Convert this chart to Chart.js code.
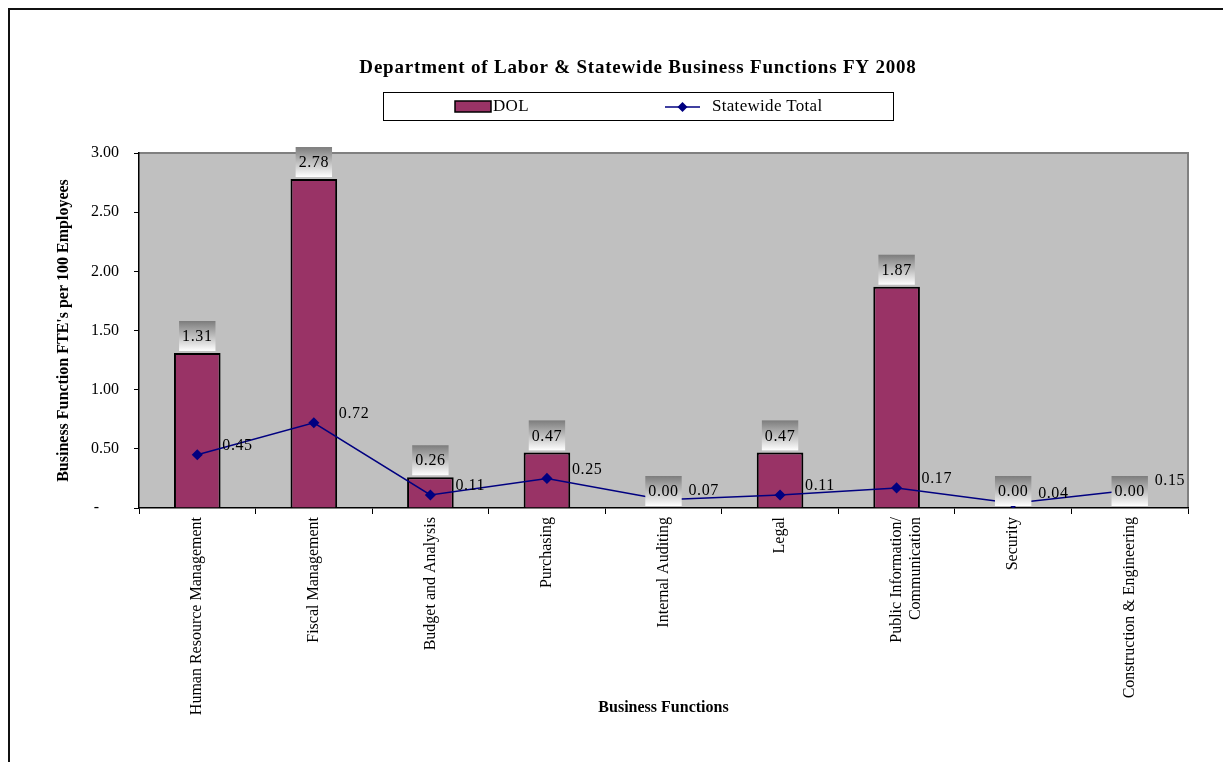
<!DOCTYPE html>
<html>
<head>
<meta charset="utf-8">
<script src="https://cdn.jsdelivr.net/npm/chart.js@4/dist/chart.umd.min.js"></script>
<style>
  html, body { margin: 0; padding: 0; background: #fff; overflow: hidden; }
  #frame {
    position: absolute; left: 8px; top: 8px; width: 1240px; height: 780px;
    border-left: 2px solid #111; border-top: 2px solid #111;
  }
  #wrap { position: absolute; left: 0; top: 0; width: 1223px; height: 762px; }
</style>
</head>
<body>
<div id="frame"></div>
<div id="wrap"><canvas id="chart" width="1223" height="762"></canvas></div>
<script>
// chart data
const categories = [
    "Human Resource Management",
    "Fiscal Management",
    "Budget and Analysis",
    "Purchasing",
    "Internal Auditing",
    "Legal",
    ["Public Information/", "Communication"],
    "Security",
    "Construction & Engineering"
];
const dolValues = [1.31, 2.78, 0.26, 0.47, 0.00, 0.47, 1.87, 0.00, 0.00];
const statewideValues = [0.45, 0.72, 0.11, 0.25, 0.07, 0.11, 0.17, 0.04, 0.15];
const yTicks = [0, 0.5, 1, 1.5, 2, 2.5, 3];

const chartTitle = "Department of Labor & Statewide Business Functions FY 2008";
const serif = "'Liberation Serif', 'Times New Roman', serif";

Chart.defaults.color = "#000";
Chart.defaults.font.family = serif;

// gray plot background with a darker frame on top/right
const plotBackground = {
    id: "plotBackground",
    beforeDraw(chart) {
        const { ctx, chartArea: a } = chart;
        ctx.save();
        ctx.fillStyle = "#c0c0c0";
        ctx.fillRect(a.left, a.top, a.right - a.left, a.bottom - a.top);
        ctx.strokeStyle = "#808080";
        ctx.lineWidth = 2;
        ctx.beginPath();
        ctx.moveTo(a.left, a.top);
        ctx.lineTo(a.right, a.top);
        ctx.lineTo(a.right, a.bottom);
        ctx.stroke();
        ctx.restore();
    }
};

// title + boxed legend (Excel style)
const headerPlugin = {
    id: "header",
    afterDraw(chart) {
        const { ctx } = chart;
        const cx = 638;
        ctx.save();
        ctx.fillStyle = "#000";
        ctx.font = "bold 19px " + serif;
        ctx.letterSpacing = "0.8px";
        ctx.textAlign = "center";
        ctx.textBaseline = "middle";
        ctx.fillText(chartTitle, cx, 68);

        // legend box
        const bw = 510, bh = 28, bx = cx - bw / 2, by = 92;
        ctx.fillStyle = "#fff";
        ctx.fillRect(bx, by, bw, bh);
        ctx.strokeStyle = "#000";
        ctx.lineWidth = 1;
        ctx.strokeRect(bx + 0.5, by + 0.5, bw, bh);

        const ds = chart.data.datasets;
        const midY = by + bh / 2 + 1;
        ctx.font = "17px " + serif;
        ctx.letterSpacing = "0.3px";
        ctx.textAlign = "left";

        // bar entry
        ctx.fillStyle = ds[0].backgroundColor;
        ctx.fillRect(bx + 72, midY - 6, 36, 11);
        ctx.strokeStyle = "#000";
        ctx.lineWidth = 1.5;
        ctx.strokeRect(bx + 72, midY - 6, 36, 11);
        ctx.fillStyle = "#000";
        ctx.fillText(ds[0].label, bx + 110, midY);

        // line entry
        ctx.strokeStyle = ds[1].borderColor;
        ctx.lineWidth = 1.5;
        ctx.beginPath();
        ctx.moveTo(bx + 282, midY);
        ctx.lineTo(bx + 317, midY);
        ctx.stroke();
        ctx.fillStyle = ds[1].borderColor;
        ctx.beginPath();
        const dx = bx + 299.5;
        ctx.moveTo(dx, midY - 5);
        ctx.lineTo(dx + 5, midY);
        ctx.lineTo(dx, midY + 5);
        ctx.lineTo(dx - 5, midY);
        ctx.closePath();
        ctx.fill();
        ctx.fillStyle = "#000";
        ctx.fillText(ds[1].label, bx + 329, midY);
        ctx.restore();
    }
};

// value labels: shaded boxes over bars, plain text right of line points
const valueLabels = {
    id: "valueLabels",
    afterDatasetsDraw(chart) {
        const { ctx } = chart;
        ctx.save();
        ctx.font = "16px " + serif;
        ctx.letterSpacing = "0.6px";
        ctx.textBaseline = "middle";

        chart.getDatasetMeta(0).data.forEach((bar, i) => {
            const txt = dolValues[i].toFixed(2);
            const w = ctx.measureText(txt).width + 6;
            const h = 30;
            const x = bar.x - w / 2;
            const y = bar.y - h - 2;
            const g = ctx.createLinearGradient(0, y, 0, y + h);
            g.addColorStop(0, "#7c7c7c");
            g.addColorStop(1, "#ffffff");
            ctx.fillStyle = g;
            ctx.fillRect(x, y, w, h);
            ctx.fillStyle = "#000";
            ctx.textAlign = "center";
            ctx.fillText(txt, bar.x, y + h / 2 + 1);
        });

        chart.getDatasetMeta(1).data.forEach((pt, i) => {
            ctx.fillStyle = "#000";
            ctx.textAlign = "left";
            ctx.fillText(statewideValues[i].toFixed(2), pt.x + 25, pt.y - 9);
        });
        ctx.restore();
    }
};

new Chart(document.getElementById("chart"), {
    type: "bar",
    data: {
        labels: categories,
        datasets: [
            {
                type: "bar",
                label: "DOL",
                data: dolValues,
                backgroundColor: "#993366",
                borderColor: "#000",
                borderWidth: 2,
                barPercentage: 0.4,
                categoryPercentage: 1,
                order: 2
            },
            {
                type: "line",
                label: "Statewide Total",
                data: statewideValues,
                borderColor: "#000080",
                backgroundColor: "#000080",
                borderWidth: 1.5,
                pointStyle: "rectRot",
                pointRadius: 4.5,
                pointBackgroundColor: "#000080",
                pointBorderColor: "#000080",
                tension: 0,
                order: 1
            }
        ]
    },
    options: {
        responsive: false,
        animation: false,
        layout: { padding: { left: 50, right: 35, top: 153, bottom: 41 } },
        plugins: {
            legend: { display: false },
            title: { display: false },
            tooltip: { enabled: false }
        },
        scales: {
            x: {
                grid: {
                    offset: true,
                    drawOnChartArea: false,
                    drawTicks: true,
                    tickLength: 6,
                    color: "#000"
                },
                border: { color: "#000", width: 1.5 },
                ticks: {
                    autoSkip: false,
                    minRotation: 90,
                    maxRotation: 90,
                    padding: 3,
                    font: { size: 16, family: serif }
                },
                title: {
                    display: true,
                    text: "Business Functions",
                    font: { size: 16, weight: "bold", family: serif },
                    padding: { top: 4, bottom: 4 }
                },
                afterFit(scale) { scale.height = 213; }
            },
            y: {
                min: 0,
                max: 3,
                afterBuildTicks(scale) { scale.ticks = yTicks.map(v => ({ value: v })); },
                grid: {
                    drawOnChartArea: false,
                    drawTicks: true,
                    tickLength: 5,
                    color: "#000"
                },
                border: { color: "#000", width: 1.5 },
                ticks: {
                    padding: 15,
                    font: { size: 16, family: serif },
                    callback: v => (v === 0 ? "-     " : v.toFixed(2))
                },
                title: {
                    display: true,
                    text: "Business Function FTE's per 100 Employees",
                    font: { size: 16, weight: "bold", family: serif },
                    padding: { top: 4, bottom: 4 }
                },
                afterFit(scale) { scale.width = 89; }
            }
        }
    },
    plugins: [plotBackground, valueLabels, headerPlugin]
});
</script>
</body>
</html>
